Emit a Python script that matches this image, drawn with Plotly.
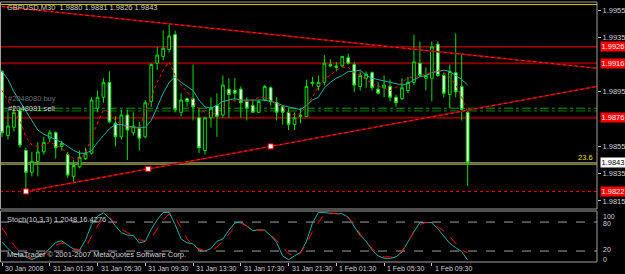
import plotly.graph_objects as go

# ---------------- data (GBPUSD M30, bar 0 = 30 Jan 2008 21:30) ----------------
opens = [1.9910, 1.9863, 1.9869, 1.9881, 1.9852, 1.9836, 1.9844, 1.9851, 1.9861, 1.9865,
         1.9855, 1.9849, 1.9833, 1.9840, 1.9846, 1.9850, 1.9883, 1.9891, 1.9902, 1.9872,
         1.9862, 1.9878, 1.9865, 1.9868, 1.9862, 1.9888, 1.9916, 1.9921, 1.9926, 1.9937,
         1.9880, 1.9890, 1.9890, 1.9876, 1.9852, 1.9876, 1.9885, 1.9878, 1.9897, 1.9896,
         1.9897, 1.9888, 1.9885, 1.9880, 1.9889, 1.9898, 1.9887, 1.9884, 1.9880, 1.9871,
         1.9877, 1.9877, 1.9901, 1.9899, 1.9902, 1.9915, 1.9914, 1.9914, 1.9920, 1.9915,
         1.9899, 1.9905, 1.9909, 1.9897, 1.9898, 1.9899, 1.9891, 1.9890, 1.9896, 1.9902,
         1.9916, 1.9905, 1.9905, 1.9930, 1.9907, 1.9893, 1.9909, 1.9899, 1.9880]
highs = [1.9911, 1.9880, 1.9885, 1.9883, 1.9854, 1.9851, 1.9858, 1.9862, 1.9867, 1.9866,
         1.9859, 1.9851, 1.9845, 1.9852, 1.9854, 1.9891, 1.9896, 1.9905, 1.9910, 1.9877,
         1.9882, 1.9882, 1.9880, 1.9873, 1.9889, 1.9916, 1.9928, 1.9940, 1.9945, 1.9940,
         1.9894, 1.9891, 1.9915, 1.9883, 1.9877, 1.9891, 1.9894, 1.9907, 1.9905, 1.9905,
         1.9899, 1.9891, 1.9889, 1.9889, 1.9900, 1.9899, 1.9891, 1.9885, 1.9883, 1.9880,
         1.9883, 1.9904, 1.9906, 1.9907, 1.9922, 1.9919, 1.9917, 1.9921, 1.9923, 1.9917,
         1.9910, 1.9910, 1.9910, 1.9902, 1.9907, 1.9904, 1.9893, 1.9905, 1.9906, 1.9937,
         1.9932, 1.9913, 1.9932, 1.9932, 1.9909, 1.9915, 1.9938, 1.9922, 1.9881]
lows = [1.9862, 1.9860, 1.9866, 1.9854, 1.9822, 1.9833, 1.9833, 1.9849, 1.9858, 1.9846,
        1.9852, 1.9832, 1.9829, 1.9839, 1.9845, 1.9849, 1.9880, 1.9887, 1.9872, 1.9855,
        1.9860, 1.9845, 1.9863, 1.9852, 1.9861, 1.9884, 1.9911, 1.9918, 1.9924, 1.9880,
        1.9877, 1.9884, 1.9874, 1.9850, 1.9849, 1.9869, 1.9862, 1.9876, 1.9876, 1.9888,
        1.9876, 1.9874, 1.9880, 1.9880, 1.9888, 1.9885, 1.9874, 1.9871, 1.9867, 1.9867,
        1.9872, 1.9877, 1.9899, 1.9896, 1.9900, 1.9913, 1.9910, 1.9913, 1.9915, 1.9895,
        1.9896, 1.9898, 1.9896, 1.9893, 1.9891, 1.9888, 1.9884, 1.9889, 1.9894, 1.9900,
        1.9906, 1.9896, 1.9888, 1.9906, 1.9891, 1.9883, 1.9891, 1.9874, 1.9826]
closes = [1.9865, 1.9870, 1.9880, 1.9856, 1.9836, 1.9844, 1.9851, 1.9858, 1.9865, 1.9854,
          1.9857, 1.9834, 1.9841, 1.9847, 1.9850, 1.9889, 1.9891, 1.9902, 1.9873, 1.9862,
          1.9878, 1.9867, 1.9870, 1.9861, 1.9887, 1.9915, 1.9922, 1.9927, 1.9936, 1.9882,
          1.9889, 1.9888, 1.9884, 1.9854, 1.9876, 1.9883, 1.9877, 1.9900, 1.9893, 1.9894,
          1.9887, 1.9883, 1.9880, 1.9888, 1.9899, 1.9888, 1.9880, 1.9880, 1.9871, 1.9876,
          1.9878, 1.9899, 1.9902, 1.9902, 1.9916, 1.9914, 1.9913, 1.9921, 1.9916, 1.9900,
          1.9907, 1.9908, 1.9898, 1.9894, 1.9900, 1.9891, 1.9887, 1.9898, 1.9902, 1.9917,
          1.9907, 1.9907, 1.9928, 1.9907, 1.9894, 1.9910, 1.9895, 1.9882, 1.9843]

ma_fast = [1.9896, 1.9889, 1.9882, 1.9874, 1.9862, 1.9856, 1.9855, 1.9856, 1.9858, 1.9856,
           1.9854, 1.9849, 1.9846, 1.9846, 1.9850, 1.9862, 1.9872, 1.9882, 1.9880, 1.9874,
           1.9871, 1.9869, 1.9869, 1.9868, 1.9880, 1.9891, 1.9902, 1.9911, 1.9917, 1.9907,
           1.9900, 1.9895, 1.9889, 1.9882, 1.9880, 1.9878, 1.9880, 1.9883, 1.9887, 1.9889,
           1.9889, 1.9888, 1.9889, 1.9891, 1.9891, 1.9889, 1.9886, 1.9884, 1.9880, 1.9878,
           1.9879, 1.9885, 1.9891, 1.9899, 1.9905, 1.9907, 1.9911, 1.9913, 1.9913, 1.9909,
           1.9907, 1.9904, 1.9901, 1.9899, 1.9898, 1.9896, 1.9898, 1.9902, 1.9905, 1.9906,
           1.9907, 1.9908, 1.9909, 1.9911, 1.9909, 1.9906, 1.9900, 1.9891, 1.9880]
ma_slow = [1.9910, 1.9904, 1.9895, 1.9888, 1.9880, 1.9873, 1.9867, 1.9864, 1.9862, 1.9860,
           1.9858, 1.9855, 1.9852, 1.9850, 1.9850, 1.9852, 1.9858, 1.9863, 1.9868, 1.9871,
           1.9871, 1.9870, 1.9869, 1.9869, 1.9869, 1.9874, 1.9884, 1.9894, 1.9902, 1.9906,
           1.9902, 1.9899, 1.9896, 1.9889, 1.9884, 1.9883, 1.9885, 1.9888, 1.9889, 1.9890,
           1.9889, 1.9889, 1.9889, 1.9889, 1.9889, 1.9888, 1.9887, 1.9885, 1.9884, 1.9883,
           1.9882, 1.9885, 1.9889, 1.9891, 1.9898, 1.9902, 1.9905, 1.9907, 1.9910, 1.9910,
           1.9911, 1.9907, 1.9905, 1.9904, 1.9903, 1.9902, 1.9901, 1.9900, 1.9901, 1.9904,
           1.9906, 1.9907, 1.9909, 1.9910, 1.9911, 1.9910, 1.9907, 1.9904, 1.9900]

stoch_main = [39, 25, 14, 12, 8, 2, 8, 15, 25, 38,
              41, 33, 24, 22, 43, 75, 92, 99, 88, 72,
              58, 53, 52, 37, 40, 65, 85, 100, 100, 75,
              45, 37, 35, 22, 20, 25, 40, 45, 63, 78,
              80, 72, 62, 64, 63, 52, 38, 10, 2, 10,
              17, 40, 78, 100, 100, 98, 97, 97, 90, 70,
              52, 40, 22, 10, 5, 5, 8, 18, 40, 60,
              79, 79, 79, 66, 50, 36, 27, 19, 1.2048]
stoch_signal = [68, 50, 32, 18, 10, 5, 7, 12, 22, 32,
                36, 33, 25, 22, 28, 50, 72, 88, 90, 78,
                66, 58, 52, 43, 42, 47, 65, 84, 97, 90,
                68, 45, 30, 25, 20, 22, 28, 40, 55, 70,
                78, 72, 65, 63, 63, 55, 42, 28, 15, 8,
                15, 36, 60, 78, 98, 99, 97, 97, 88, 78,
                55, 40, 25, 15, 8, 8, 8, 20, 38, 62,
                75, 79, 78, 70, 62, 50, 35, 22, 16.4276]

tick_bars = [0, 8, 16, 24, 32, 40, 48, 56, 64, 72]
tick_labels = ["30 Jan 2008", "31 Jan 01:30", "31 Jan 05:30", "31 Jan 09:30", "31 Jan 13:30",
               "31 Jan 17:30", "31 Jan 21:30", "1 Feb 01:30", "1 Feb 05:30", "1 Feb 09:30"]
price_ticks = [1.9955, 1.9935, 1.9895, 1.9855, 1.9835, 1.9815]

# trend lines (anchor bars / prices)
desc_bars = [0, 78]
desc_prices = [1.99576, 1.99222]
asc_bars = [4, 45]
asc_prices = [1.9822, 1.9855]

# horizontal objects
lvl_red = 1.9928
lvl_dark1 = 1.9916
lvl_dark2 = 1.9876
lvl_orders = [1.9883, 1.9881]
lvl_fib_top = 1.9959
lvl_fib236 = 1.9842
lvl_bid = 1.9843
lvl_low = 1.9822
boxes = [(1.9928, "1.9926", "#ff0000", "#ffffff"),
         (1.9916, "1.9916", "#ff0000", "#ffffff"),
         (1.9876, "1.9876", "#ff0000", "#ffffff"),
         (1.9843, "1.9843", "#ffffff", "#000000"),
         (1.9822, "1.9822", "#ff0000", "#ffffff")]

# ---------------- layout helpers ----------------
W, H = 625, 274
def px(x):
    return x / W
def py(y):
    return 1 - y / H

FONT = "Liberation Sans, Arial"
TXT = "#d0d0d0"
GREEN = "#00e000"
n = len(opens)
bars = list(range(n))
XR = [-0.335, 99.665]

fig = go.Figure()

def extend(bx, pr):
    slope = (pr[1] - pr[0]) / (bx[1] - bx[0])
    return [bx[0], XR[1]], [pr[0], pr[0] + slope * (XR[1] - bx[0])]

for bx, pr in ((desc_bars, desc_prices), (asc_bars, asc_prices)):
    xs, ys = extend(bx, pr)
    fig.add_trace(go.Scatter(x=xs, y=ys, mode="lines", line=dict(color="#8b0000", width=1.6),
                             hoverinfo="skip", showlegend=False))
    fig.add_trace(go.Scatter(x=xs, y=ys, mode="lines", line=dict(color="#ff2020", width=1, dash="dot"),
                             hoverinfo="skip", showlegend=False))

fig.add_trace(go.Candlestick(
    x=bars, open=opens, high=highs, low=lows, close=closes,
    increasing=dict(line=dict(color=GREEN, width=1), fillcolor="#000000"),
    decreasing=dict(line=dict(color=GREEN, width=1), fillcolor="#ffffff"),
    whiskerwidth=0, hoverinfo="skip", showlegend=False))

fig.add_trace(go.Scatter(x=bars, y=ma_slow, mode="lines", line=dict(color="#20b2aa", width=1),
                         hoverinfo="skip", showlegend=False))
fig.add_trace(go.Scatter(x=bars, y=ma_fast, mode="lines", line=dict(color="#ff0000", width=1, dash="dot"),
                         hoverinfo="skip", showlegend=False))

# anchor squares of the selected trend line
mid_b = (asc_bars[0] + asc_bars[1]) / 2
mid_p = (asc_prices[0] + asc_prices[1]) / 2
fig.add_trace(go.Scatter(x=[asc_bars[0], mid_b, asc_bars[1]], y=[asc_prices[0], mid_p, asc_prices[1]],
                         mode="markers", marker=dict(symbol="square", size=5, color="#ffffff",
                                                     line=dict(color="#ff0000", width=1)),
                         hoverinfo="skip", showlegend=False))

# stochastic
fig.add_trace(go.Scatter(x=bars, y=stoch_main, mode="lines", line=dict(color="#20b2aa", width=1),
                         xaxis="x2", yaxis="y2", hoverinfo="skip", showlegend=False))
fig.add_trace(go.Scatter(x=bars, y=stoch_signal, mode="lines", line=dict(color="#ff0000", width=1, dash="dash"),
                         xaxis="x2", yaxis="y2", hoverinfo="skip", showlegend=False))

shapes = []
def hline(level, color, width=1, dash="solid", yref="y"):
    shapes.append(dict(type="line", xref="x domain", x0=0, x1=1, yref=yref, y0=level, y1=level,
                       line=dict(color=color, width=width, dash=dash), layer="below"))

hline(lvl_fib_top, "#d4d400")
hline(lvl_red, "#ff0000")
hline(lvl_dark1, "#8b0000", 2)
hline(lvl_dark2, "#8b0000", 2)
hline(lvl_orders[0], "#00a000", 1, "dashdot")
hline(lvl_orders[1], "#008000", 1, "dashdot")
hline(lvl_bid, "#a0a0a0")
hline(lvl_fib236, "#d4d400")
hline(lvl_low, "#ff0000", 1, "dot")
for lv in (80, 20):
    shapes.append(dict(type="line", xref="x2 domain", x0=0, x1=1, yref="y2", y0=lv, y1=lv,
                       line=dict(color="#a0a0a0", width=1, dash="dash"), layer="below"))
# panel frames
for y0, y1 in ((2, 209), (211, 262)):
    shapes.append(dict(type="rect", xref="paper", yref="paper", x0=px(0.5), x1=px(597),
                       y0=py(y1), y1=py(y0), line=dict(color="#a0a0a0", width=1), layer="above"))

ann = []
def text(x, y, s, color=TXT, xanchor="left", yanchor="middle", xref="paper", yref="paper", size=7.5, **kw):
    ann.append(dict(x=x, y=y, xref=xref, yref=yref, text=s, showarrow=False, xanchor=xanchor,
                    yanchor=yanchor, font=dict(family=FONT, size=size, color=color), **kw))

text(px(5), py(7), "GBPUSD,M30  1.9880 1.9881 1.9826 1.9843")
text(px(6), py(98), "#2048080 buy", color="#707070")
text(px(6), py(108.5), "#2048081 sell")
text(px(595), lvl_fib236, "23.6", color="#e0e000", xanchor="right", yanchor="bottom", yref="y")
text(px(5), py(219), "Stoch(10,3,3) 1.2048 16.4276")
text(px(5), py(254), "MetaTrader © 2001-2007 MetaQuotes Software Corp.")
for b, lab in zip(tick_bars, tick_labels):
    text(b, py(268), lab, xref="x2", xshift=1, size=7)
for lv, s, bg, fg in boxes:
    ann.append(dict(x=px(600), y=lv, xref="paper", yref="y", text=s, showarrow=False, xanchor="left",
                    yanchor="middle", bgcolor=bg, width=24, height=9, borderpad=0,
                    font=dict(family=FONT, size=7.5, color=fg)))
for lv, s, sh in ((100, "100", -4), (80, "80", -1), (20, "20", 2), (0, "0", 1)):
    text(px(601), lv, s, xref="paper", yref="y2", yshift=sh, size=7)

fig.update_layout(
    width=W, height=H, margin=dict(l=0, r=0, t=0, b=0),
    paper_bgcolor="#000000", plot_bgcolor="#000000",
    showlegend=False, shapes=shapes, annotations=ann, boxgap=0.35,
    xaxis=dict(domain=[0, px(597)], range=XR, anchor="y", showgrid=False, zeroline=False,
               showticklabels=False, ticks="", rangeslider=dict(visible=False), fixedrange=True),
    yaxis=dict(domain=[py(209), py(2)], range=[1.98091, 1.99609], side="right", anchor="x",
               showgrid=False, zeroline=False, tickvals=price_ticks,
               ticktext=[f"{v:.4f}" for v in price_ticks], ticks="outside", ticklen=3,
               tickcolor="#c0c0c0", tickfont=dict(family=FONT, size=7.5, color=TXT),
               showline=False, fixedrange=True),
    xaxis2=dict(domain=[0, px(597)], range=XR, anchor="y2", matches="x", showgrid=False,
                zeroline=False, showticklabels=False, tickvals=tick_bars, ticks="outside",
                ticklen=3, tickcolor="#c0c0c0", fixedrange=True),
    yaxis2=dict(domain=[py(262), py(211)], range=[-2.7, 102.9], side="right", anchor="x2",
                showgrid=False, zeroline=False, showticklabels=False, ticks="", fixedrange=True),
)

fig.write_html("out.html")
